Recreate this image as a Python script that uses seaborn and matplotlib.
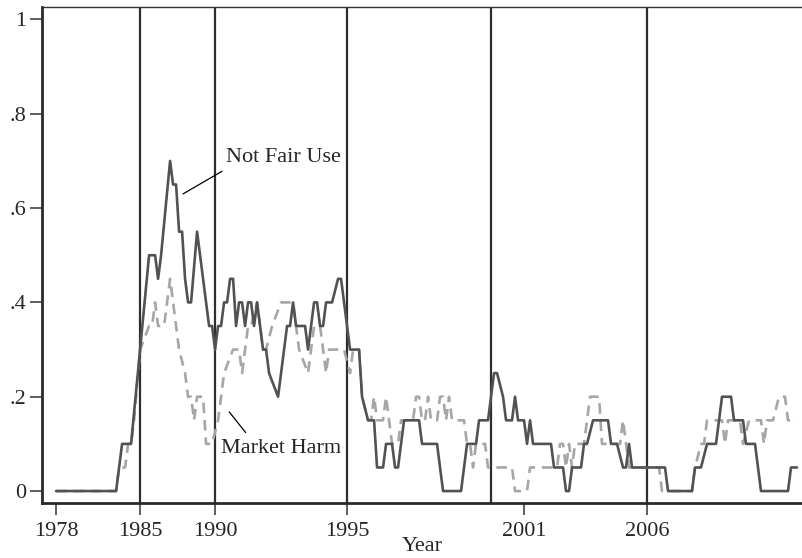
import pandas as pd
import matplotlib
matplotlib.use("Agg")
import matplotlib.pyplot as plt
import seaborn as sns

# moving share of opinions, indexed by case number (x axis labelled by year of case)
nfu_case = [1, 21, 22, 23, 26, 32, 34, 35, 36, 39, 40, 41, 42, 43, 44, 45, 46, 48, 50, 51,
            52, 53, 54, 55, 56, 57, 58, 59, 60, 61, 62, 63, 64, 65, 66, 67, 68, 70, 71, 72,
            75, 76, 77, 78, 79, 80, 81, 84, 85, 86, 87, 88, 89, 90, 91, 93, 95, 96, 97, 98,
            99, 102, 103, 105, 107, 108, 110, 111, 113, 114, 115, 117, 122, 123, 128, 130,
            136, 137, 138, 141, 142, 145, 146, 147, 148, 150, 151, 153, 154, 155, 157, 158,
            159, 160, 166, 167, 170, 171, 172, 173, 176, 177, 178, 180, 185, 186, 188, 190,
            191, 192, 193, 204, 205, 213, 214, 216, 218, 221, 222, 223, 226, 227, 230, 231,
            234, 235, 236, 245, 246, 248]
nfu_share = [0, 0, .05, .1, .1, .5, .5, .45, .5, .7, .65, .65, .55, .55, .45, .4, .4, .55, .45, .4,
             .35, .35, .3, .35, .35, .4, .4, .45, .45, .35, .4, .4, .35, .4, .4, .35, .4, .3, .3, .25,
             .2, .25, .3, .35, .35, .4, .35, .35, .3, .35, .4, .4, .35, .35, .4, .4, .45, .45, .4, .35,
             .3, .3, .2, .15, .15, .05, .05, .1, .1, .05, .05, .15, .15, .1, .1, 0,
             0, .05, .1, .1, .15, .15, .2, .25, .25, .2, .15, .15, .2, .15, .15, .1,
             .15, .1, .1, .05, .05, 0, 0, .05, .05, .1, .1, .15, .15, .1, .1, .05,
             .05, .1, .05, .05, 0, 0, .05, .05, .1, .1, .15, .2, .2, .15, .15, .1,
             .1, .05, 0, 0, .05, .05]

mh_case = [1, 21, 22, 24, 25, 26, 27, 29, 32, 33, 34, 35, 37, 39, 40, 42, 44, 45, 46, 47,
           48, 50, 51, 53, 55, 57, 60, 62, 63, 64, 65, 66, 68, 69, 70, 71, 73, 76, 80, 81,
           82, 85, 86, 87, 89, 90, 91, 92, 97, 99, 100, 102, 103, 105, 106, 107, 108, 110,
           111, 112, 113, 115, 116, 120, 121, 122, 123, 124, 125, 126, 128, 129, 130, 131,
           132, 133, 137, 138, 139, 140, 141, 144, 145, 153, 154, 158, 159, 168, 169, 170,
           171, 172, 173, 174, 177, 178, 179, 182, 183, 189, 190, 192, 202, 203, 213, 214,
           216, 217, 218, 223, 224, 225, 229, 230, 232, 236, 237, 238, 240, 242, 244, 245, 248]
mh_share = [0, 0, .05, .05, .1, .1, .15, .3, .35, .35, .4, .35, .35, .45, .4, .3, .25, .2, .2, .15,
            .2, .2, .1, .1, .15, .25, .3, .3, .25, .3, .35, .35, .4, .35, .3, .3, .35, .4, .4, .35,
            .3, .25, .3, .35, .35, .3, .25, .3, .3, .25, .3, .3, .2, .15, .15, .2, .15, .15,
            .2, .15, .1, .1, .15, .15, .2, .2, .15, .15, .2, .15, .15, .2, .2, .15,
            .2, .15, .15, .1, .1, .05, .1, .1, .05, .05, 0, 0, .05, .05, .1, .1,
            .05, .1, .05, .1, .1, .15, .2, .2, .1, .1, .15, .05, .05, 0, 0, .05,
            .1, .1, .15, .15, .1, .15, .15, .1, .15, .15, .1, .15, .15, .2, .2, .15, .15]

tick_cases = [1, 29, 54, 98, 157, 198]
tick_years = ["1978", "1985", "1990", "1995", "2001", "2006"]
break_cases = [29, 54, 98, 146, 198]

nfu = pd.DataFrame({"case": nfu_case, "share": nfu_share})
mh = pd.DataFrame({"case": mh_case, "share": mh_share})

sns.set_style("white")
plt.rcParams["font.family"] = ["Liberation Serif", "DejaVu Serif"]

fig = plt.figure(figsize=(8.03, 5.58), dpi=100)
ax = fig.add_axes([0.0523, 0.098, 0.9477, 0.89])

for c in break_cases:
    ax.axvline(c, color="#2e2e2e", lw=1.6, zorder=1)

sns.lineplot(data=mh, x="case", y="share", ax=ax, color="#a6a6a6", lw=1.9,
             linestyle=(0, (4, 2.6)), estimator=None, sort=False, zorder=2)
sns.lineplot(data=nfu, x="case", y="share", ax=ax, color="#525252", lw=1.9,
             estimator=None, sort=False, zorder=3)

# labels and their pointer lines
ax.text(57.5, 0.708, "Not Fair Use", fontsize=16, va="center", ha="left")
ax.annotate("", xy=(43.3, 0.63), xytext=(56.3, 0.678),
            arrowprops=dict(arrowstyle="-", color="black", lw=0.9, shrinkA=0, shrinkB=0))
ax.text(56.0, 0.091, "Market Harm", fontsize=16, va="center", ha="left")
ax.annotate("", xy=(58.7, 0.168), xytext=(64.2, 0.124),
            arrowprops=dict(arrowstyle="-", color="black", lw=0.9, shrinkA=0, shrinkB=0))

ax.set_xlim(-3.7, 250)
ax.set_ylim(-0.026, 1.027)
ax.set_xticks(tick_cases)
ax.set_xticklabels(tick_years)
ax.set_yticks([0, .2, .4, .6, .8, 1])
ax.set_yticklabels(["0", ".2", ".4", ".6", ".8", "1"])
ax.tick_params(axis="both", direction="out", length=8.5, width=1.1, color="#333333",
               labelsize=16, pad=3, left=True, bottom=True)
ax.tick_params(axis="x", pad=5)
ax.set_xlabel("Year", fontsize=16, labelpad=-3)
ax.set_ylabel("")

for side in ["left", "bottom"]:
    ax.spines[side].set_color("#2a2a2a")
    ax.spines[side].set_linewidth(2)
ax.spines["top"].set_color("#333333")
ax.spines["top"].set_linewidth(1)
ax.spines["right"].set_visible(False)

fig.savefig("out.png", dpi=100)
